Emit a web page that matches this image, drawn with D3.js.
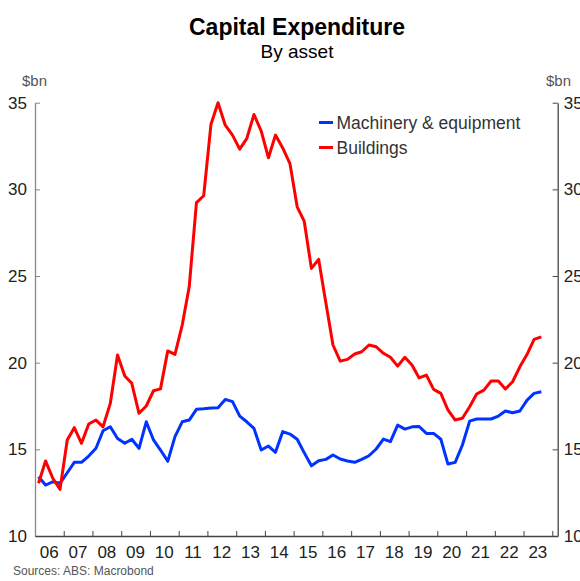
<!DOCTYPE html>
<html>
<head>
<meta charset="utf-8">
<script src="https://cdn.jsdelivr.net/npm/d3@7"></script>
<style>
  body { margin: 0; background: #fff; }
  svg text { font-family: "Liberation Sans", Arial, sans-serif; }
</style>
</head>
<body>
<div id="chart"></div>
<script>
// quarterly series, 2006Q1 .. 2023Q3 ($bn)
let startYear = 2006;
let machinery = [
    13.42, 12.94, 13.13, 13.04, 13.65, 14.25, 14.25, 14.61, 15.06, 16.07,
    16.30, 15.63, 15.35, 15.58, 15.06, 16.59, 15.54, 14.96, 14.31, 15.73,
    16.59, 16.69, 17.31, 17.34, 17.38, 17.40, 17.88, 17.75, 16.92, 16.59,
    16.21, 14.96, 15.19, 14.83, 16.02, 15.88, 15.58, 14.81, 14.05, 14.34,
    14.42, 14.67, 14.44, 14.33, 14.25, 14.42, 14.63, 15.02, 15.59, 15.44,
    16.40, 16.17, 16.30, 16.32, 15.92, 15.92, 15.58, 14.15, 14.25, 15.25,
    16.63, 16.75, 16.75, 16.75, 16.92, 17.21, 17.11, 17.21, 17.84, 18.23,
    18.32
];
let buildings = [
    13.04, 14.33, 13.33, 12.69, 15.54, 16.25, 15.35, 16.46, 16.69, 16.30,
    17.65, 20.44, 19.23, 18.81, 17.08, 17.50, 18.38, 18.49, 20.68, 20.48,
    22.17, 24.38, 29.24, 29.63, 33.74, 35.00, 33.70, 33.13, 32.32, 32.93,
    34.32, 33.36, 31.82, 33.13, 32.39, 31.49, 28.99, 28.17, 25.44, 25.96,
    23.44, 21.02, 20.09, 20.19, 20.50, 20.63, 21.02, 20.92, 20.54, 20.31,
    19.80, 20.31, 19.85, 19.12, 19.28, 18.46, 18.23, 17.27, 16.69, 16.79,
    17.46, 18.19, 18.42, 18.94, 18.94, 18.48, 18.90, 19.76, 20.48, 21.34,
    21.49
];
let yTicks = [10, 15, 20, 25, 30, 35];
let yearLabels = ['06', '07', '08', '09', '10', '11', '12', '13', '14', '15',
    '16', '17', '18', '19', '20', '21', '22', '23'];
let seriesNames = ['Machinery & equipment', 'Buildings'];
let seriesColors = ['#0033ff', '#ff0000'];

let width = 580, height = 581;
let plotL = 35, plotR = 557.7, plotT = 102.7, plotB = 536;

let svg = d3.select('#chart').append('svg')
    .attr('width', width)
    .attr('height', height);

//季度中点日期
let quarterDate = function (i) {
    let yr = startYear + Math.floor(i / 4);
    let q = i % 4;
    return new Date(yr, q * 3 + 1, 15);
};

let x = d3.scaleTime()
    .domain([new Date(2006, 0, 1), new Date(2024, 2, 10)])
    .range([plotL, plotR]);
let y = d3.scaleLinear()
    .domain([10, 35])
    .range([plotB, plotT]);

// title
svg.append('text')
    .attr('x', 297).attr('y', 35)
    .attr('text-anchor', 'middle')
    .attr('font-size', 23).attr('font-weight', 'bold')
    .attr('fill', '#000')
    .text('Capital Expenditure');
svg.append('text')
    .attr('x', 297).attr('y', 58)
    .attr('text-anchor', 'middle')
    .attr('font-size', 19)
    .attr('fill', '#000')
    .text('By asset');

// unit labels
svg.append('text')
    .attr('x', 22).attr('y', 86)
    .attr('font-size', 15).attr('fill', '#555')
    .text('$bn');
svg.append('text')
    .attr('x', 546).attr('y', 86)
    .attr('font-size', 15).attr('fill', '#555')
    .text('$bn');

// left axis
let leftAxis = d3.axisLeft(y).tickValues(yTicks).tickSizeInner(-5).tickSizeOuter(0).tickPadding(8);
let gl = svg.append('g').attr('transform', 'translate(' + plotL + ',0)').call(leftAxis);
gl.select('.domain').attr('stroke', '#888').attr('stroke-width', 1.3);
gl.selectAll('.tick line').attr('stroke', '#888');
gl.selectAll('.tick text').attr('font-size', 17).attr('fill', '#222')
    .attr('font-family', '"Liberation Sans", Arial, sans-serif');

// right axis (labels are clipped by the page edge, as in the original)
let rightAxis = d3.axisRight(y).tickValues(yTicks).tickSizeInner(-5).tickSizeOuter(0).tickPadding(6);
let gr = svg.append('g').attr('transform', 'translate(' + plotR + ',0)').call(rightAxis);
gr.select('.domain').attr('stroke', '#444').attr('stroke-width', 1.3);
gr.selectAll('.tick line').attr('stroke', '#444');
gr.selectAll('.tick text').attr('font-size', 17).attr('fill', '#222')
    .attr('font-family', '"Liberation Sans", Arial, sans-serif');

// bottom axis: ticks at year starts, labels mid-year
let yearStarts = d3.range(2007, 2025).map(function (yr) { return new Date(yr, 0, 1); });
let bottomAxis = d3.axisBottom(x).tickValues(yearStarts).tickSizeInner(-5).tickSizeOuter(0).tickFormat('');
let gb = svg.append('g').attr('transform', 'translate(0,' + plotB + ')').call(bottomAxis);
gb.select('.domain').attr('stroke', '#444').attr('stroke-width', 1.3);
gb.selectAll('.tick line').attr('stroke', '#444');

svg.append('g').selectAll('text')
    .data(yearLabels)
    .enter()
    .append('text')
    .attr('x', function (d, i) { return x(new Date(startYear + i, 6, 2)); })
    .attr('y', 558)
    .attr('text-anchor', 'middle')
    .attr('font-size', 17)
    .attr('fill', '#222')
    .text(function (d) { return d; });

// lines
let line = d3.line()
    .x(function (d, i) { return x(quarterDate(i)); })
    .y(function (d) { return y(d); });

[machinery, buildings].forEach(function (s, k) {
    svg.append('path')
        .datum(s)
        .attr('fill', 'none')
        .attr('stroke', seriesColors[k])
        .attr('stroke-width', 3)
        .attr('stroke-linejoin', 'round')
        .attr('d', line);
});

// legend
let lg = svg.append('g').selectAll('g')
    .data(seriesNames)
    .enter()
    .append('g')
    .attr('transform', function (d, i) { return 'translate(319,' + (122.5 + i * 25) + ')'; });
lg.append('line')
    .attr('x1', 0).attr('x2', 14)
    .attr('stroke', function (d, i) { return seriesColors[i]; })
    .attr('stroke-width', 3);
lg.append('text')
    .attr('x', 17.5).attr('y', 6.3)
    .attr('font-size', 17.5)
    .attr('fill', '#333')
    .text(function (d) { return d; });

// source
svg.append('text')
    .attr('x', 13).attr('y', 575)
    .attr('font-size', 12)
    .attr('fill', '#555')
    .text('Sources: ABS: Macrobond');
</script>
</body>
</html>
